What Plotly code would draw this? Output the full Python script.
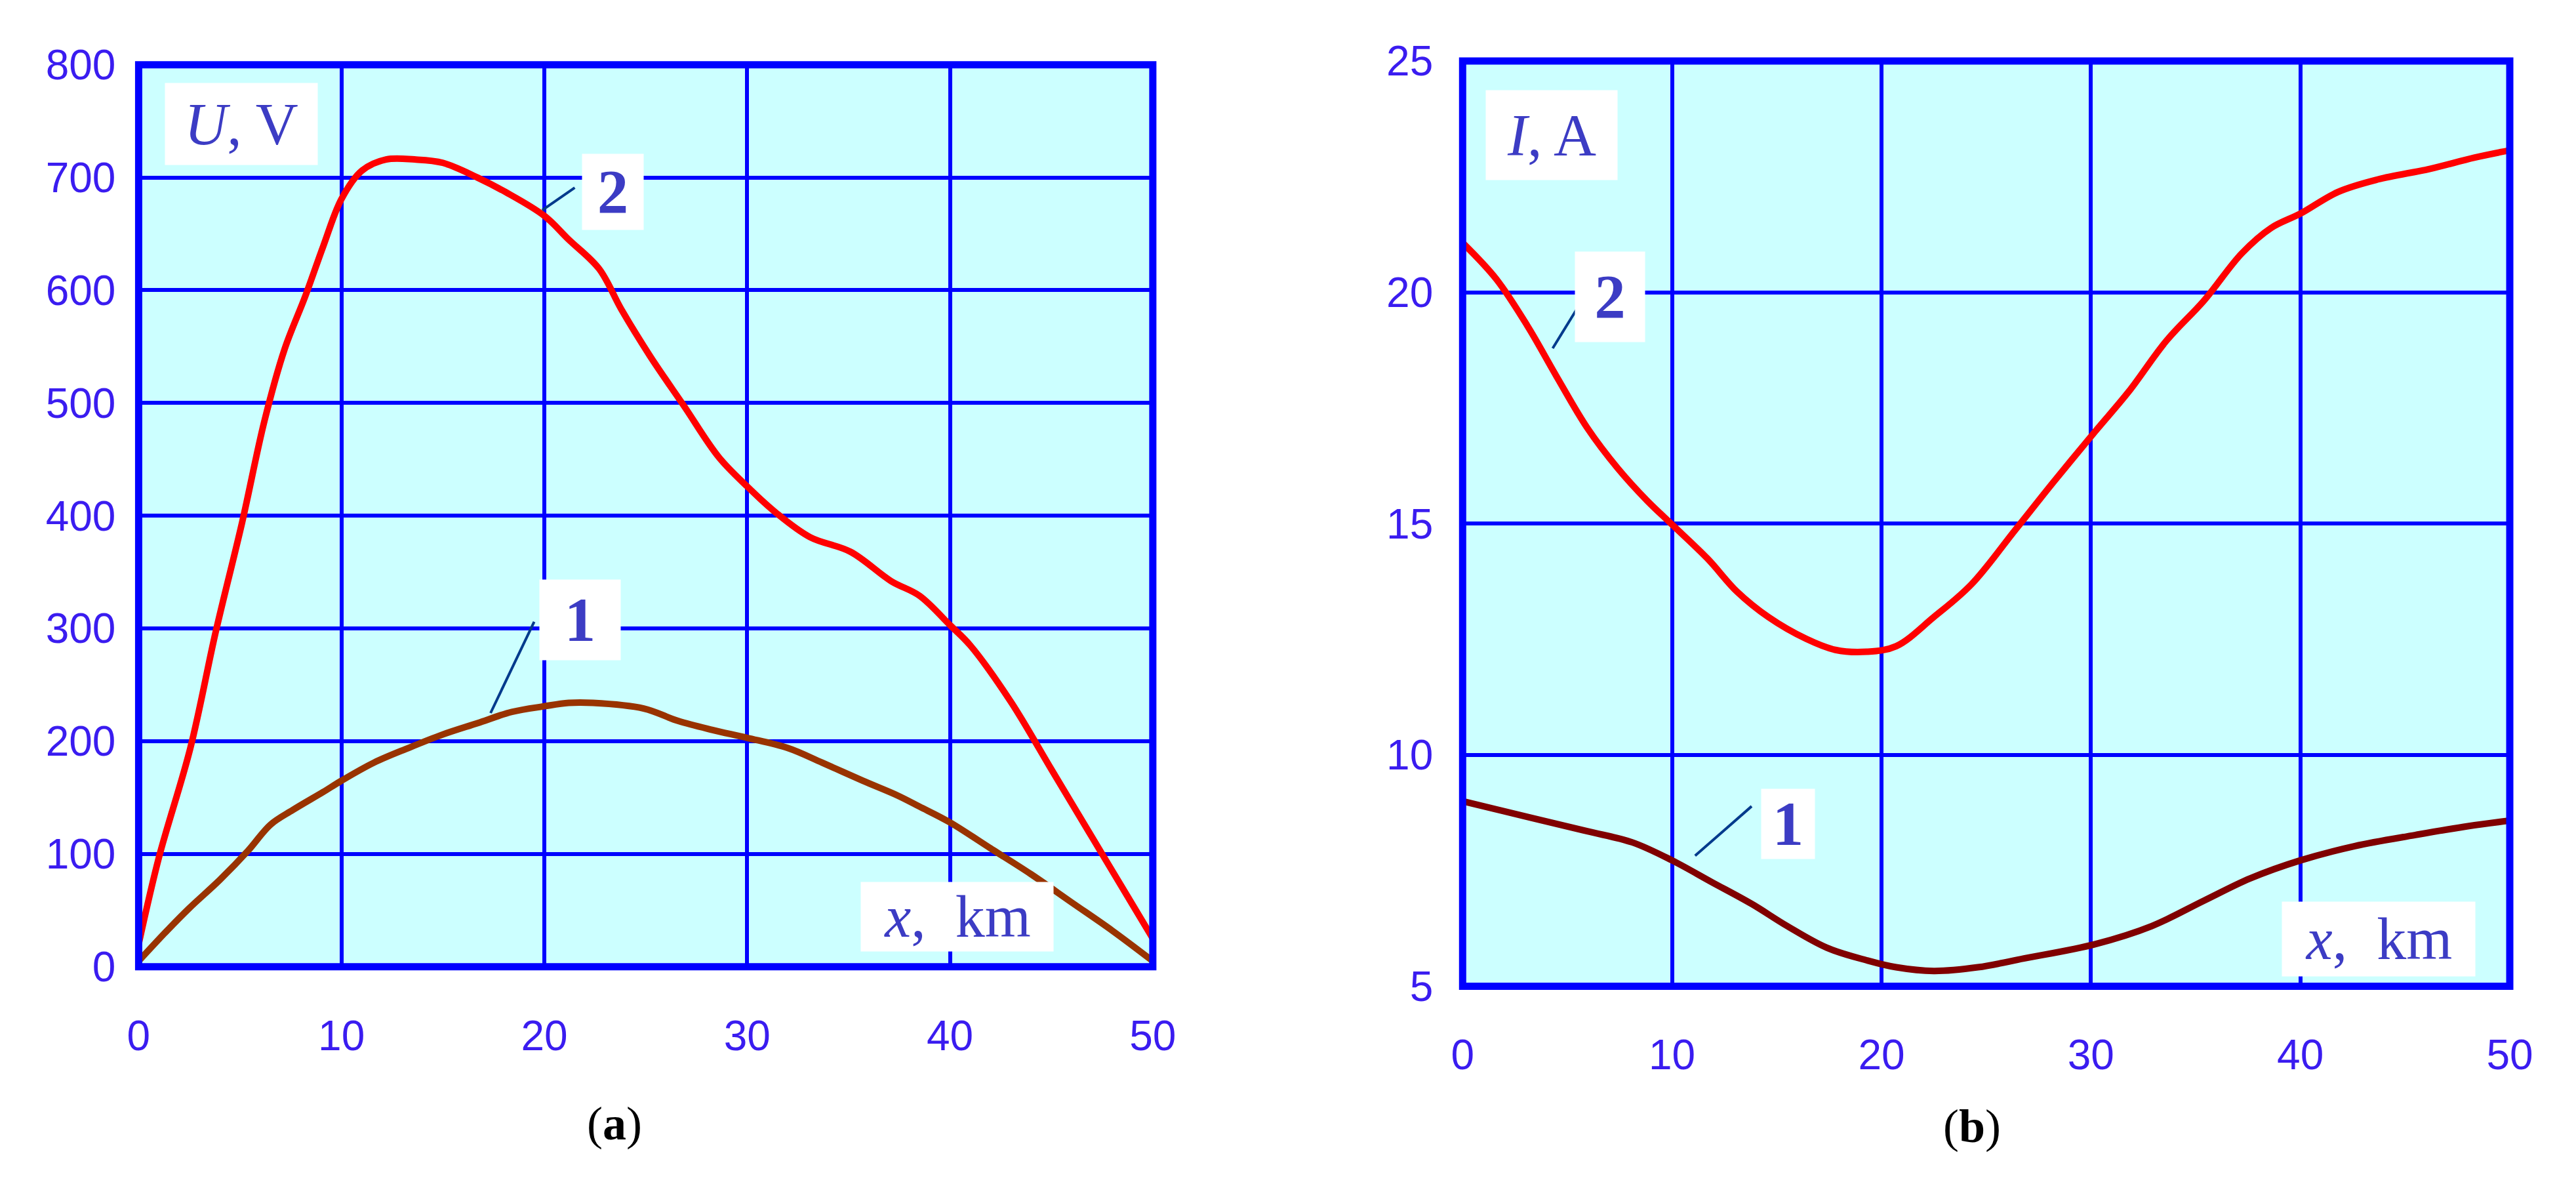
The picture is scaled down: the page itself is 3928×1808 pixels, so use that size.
import plotly.graph_objects as go

# ---- panel (a): voltage U, V along the line
x_u1 = [0, 1.4, 2.5, 4, 5.4, 6.5, 7.6, 9.1, 10, 11.6, 13.3, 15, 16.7, 18.4, 20, 21.2, 22.4,
        24.9, 26.6, 28.3, 30, 32, 33.7, 35.7, 37.4, 38.5, 40, 42, 44, 46, 48, 50]
u_1 = [5, 32, 52, 77, 103, 126, 139, 155, 165, 181, 194, 206, 216, 226, 231, 234, 234,
       229, 218, 210, 203, 194, 181, 165, 152, 142, 128, 105, 82, 57, 32, 5]

x_u2 = [0, 1, 2.55, 3.8, 5.1, 6.2, 7.2, 8.2, 9.1, 10, 11, 12.2, 13.6, 15, 16.7, 18.1, 20,
        21.2, 22.7, 23.8, 25.2, 26.9, 28.6, 30, 31.4, 33.1, 35.1, 37.1, 38.5, 40, 41, 43,
        45, 47, 49, 50]
u_2 = [20, 97, 194, 297, 394, 484, 548, 594, 639, 681, 706, 716, 716, 713, 700, 687, 666,
       645, 619, 583, 542, 497, 452, 426, 403, 381, 368, 342, 329, 303, 285, 235,
       175, 115, 55, 25]

# ---- panel (b): current I, A along the line
x_i1 = [0, 3.1, 5.95, 8.1, 10, 11.9, 13.8, 15.5, 17.4, 19.3, 20.7, 22.5, 24.6, 26.8, 30.2,
        32.9, 35.4, 37.6, 40, 42.6, 45.5, 48, 50]
i_1 = [9.0, 8.66, 8.35, 8.11, 7.72, 7.25, 6.78, 6.3, 5.83, 5.56, 5.41, 5.33, 5.41, 5.6, 5.91,
       6.3, 6.85, 7.33, 7.72, 8.03, 8.27, 8.46, 8.58]

x_i2 = [0, 1.6, 3.1, 4.5, 5.95, 7.4, 8.8, 10, 11.7, 13.1, 14.6, 16.4, 17.8, 19.3, 20.7, 22.5,
        24.3, 26.4, 28.2, 30.2, 31.8, 33.6, 35.4, 37.2, 38.6, 40, 41.8, 43.7, 46.2, 48.3, 50]
i_2 = [21.07, 20.29, 19.27, 18.17, 17.07, 16.2, 15.5, 14.98, 14.24, 13.53, 12.98, 12.51,
       12.27, 12.23, 12.35, 12.98, 13.69, 14.87, 15.89, 16.99, 17.85, 18.95, 19.82, 20.84,
       21.39, 21.7, 22.17, 22.44, 22.67, 22.91, 23.07]

u_ticks = [0, 100, 200, 300, 400, 500, 600, 700, 800]
i_ticks = [5, 10, 15, 20, 25]
x_ticks = [0, 10, 20, 30, 40, 50]

W, H = 3928, 1808
BLUE = '#0000ff'
TICK_COLOR = '#3a1cf0'
LABEL_COLOR = '#3c3cc4'
LEADER = '#003a8c'


def px(x):
    return x / W


def py(y):
    return 1 - y / H


fig = go.Figure()

fig.add_trace(go.Scatter(x=x_u1, y=u_1, mode='lines', line=dict(color='#993300', width=10, shape='spline'),
                         xaxis='x', yaxis='y', showlegend=False))
fig.add_trace(go.Scatter(x=x_u2, y=u_2, mode='lines', line=dict(color='#ff0000', width=10, shape='spline'),
                         xaxis='x', yaxis='y', showlegend=False))
fig.add_trace(go.Scatter(x=x_i1, y=i_1, mode='lines', line=dict(color='#800000', width=10, shape='spline'),
                         xaxis='x2', yaxis='y2', showlegend=False))
fig.add_trace(go.Scatter(x=x_i2, y=i_2, mode='lines', line=dict(color='#ff0000', width=10, shape='spline'),
                         xaxis='x2', yaxis='y2', showlegend=False))

tickfont = dict(family='Liberation Sans', size=64, color=TICK_COLOR)
common_x = dict(range=[0, 50], tickvals=x_ticks, showgrid=True, gridcolor=BLUE, gridwidth=6,
                zeroline=False, showline=False, ticks='', tickfont=tickfont, ticklabelstandoff=62)
common_y = dict(showgrid=True, gridcolor=BLUE, gridwidth=6, zeroline=False, showline=False,
                ticks='', tickfont=tickfont)

fig.update_layout(
    width=W, height=H,
    margin=dict(l=0, r=0, t=0, b=0),
    paper_bgcolor='white',
    plot_bgcolor='#ccffff',
    xaxis=dict(domain=[px(188), px(1756)], anchor='y', **common_x),
    yaxis=dict(domain=[py(1489), py(57)], anchor='x', range=[0, 800], tickvals=u_ticks,
               ticklabelstandoff=34, **common_y),
    xaxis2=dict(domain=[px(2235), px(3854)], anchor='y2', **common_x),
    yaxis2=dict(domain=[py(1520), py(51)], anchor='x2', range=[5, 25], tickvals=i_ticks,
                ticklabelstandoff=44, **common_y),
)

# thick frame round each plot
for xr, yr in (('x', 'y'), ('x2', 'y2')):
    fig.add_shape(type='rect', xref=f'{xr} domain', yref=f'{yr} domain', x0=0, x1=1, y0=0, y1=1,
                  line=dict(color=BLUE, width=11), layer='above')

# leader lines from curve labels to curves
leaders = [
    ('x', 'y', 19.9, 671, 21.5, 691),
    ('x', 'y', 17.35, 225, 19.5, 306),
    ('x2', 'y2', 4.3, 18.79, 5.47, 19.65),
    ('x2', 'y2', 11.1, 7.82, 13.8, 8.89),
]
for xr, yr, x0, y0, x1, y1 in leaders:
    fig.add_shape(type='line', xref=xr, yref=yr, x0=x0, y0=y0, x1=x1, y1=y1,
                  line=dict(color=LEADER, width=4), layer='above')

serif = 'Liberation Serif'
# (text, centre x px, centre y px, box w, box h, size)
boxes = [
    ('<i>U</i>, V', 347, 151, 232, 124, 90),
    ('<b>2</b>', 921, 259, 93, 115, 95),
    ('<b>1</b>', 870, 938, 123, 122, 95),
    ('<i>x</i>,  km', 1453, 1410, 293, 105, 90),
    ('<i>I</i>, A', 2373, 169, 200, 136, 90),
    ('<b>2</b>', 2463, 425, 106, 137, 95),
    ('<b>1</b>', 2738, 1262, 81, 106, 95),
    ('<i>x</i>,  km', 3651, 1445, 294, 113, 90),
]
for text, cx, cy, bw, bh, size in boxes:
    fig.add_annotation(text=text, xref='paper', yref='paper', x=px(cx), y=py(cy),
                       xanchor='center', yanchor='middle', showarrow=False,
                       width=bw, height=bh, bgcolor='white', borderpad=0, align='center', valign='middle',
                       font=dict(family=serif, size=size, color=LABEL_COLOR))

for text, cx, cy in (('(<b>a</b>)', 924, 1738), ('(<b>b</b>)', 3023, 1742)):
    fig.add_annotation(text=text, xref='paper', yref='paper', x=px(cx), y=py(cy),
                       xanchor='center', yanchor='middle', showarrow=False,
                       font=dict(family=serif, size=72, color='black'))

fig.write_html("out.html")
